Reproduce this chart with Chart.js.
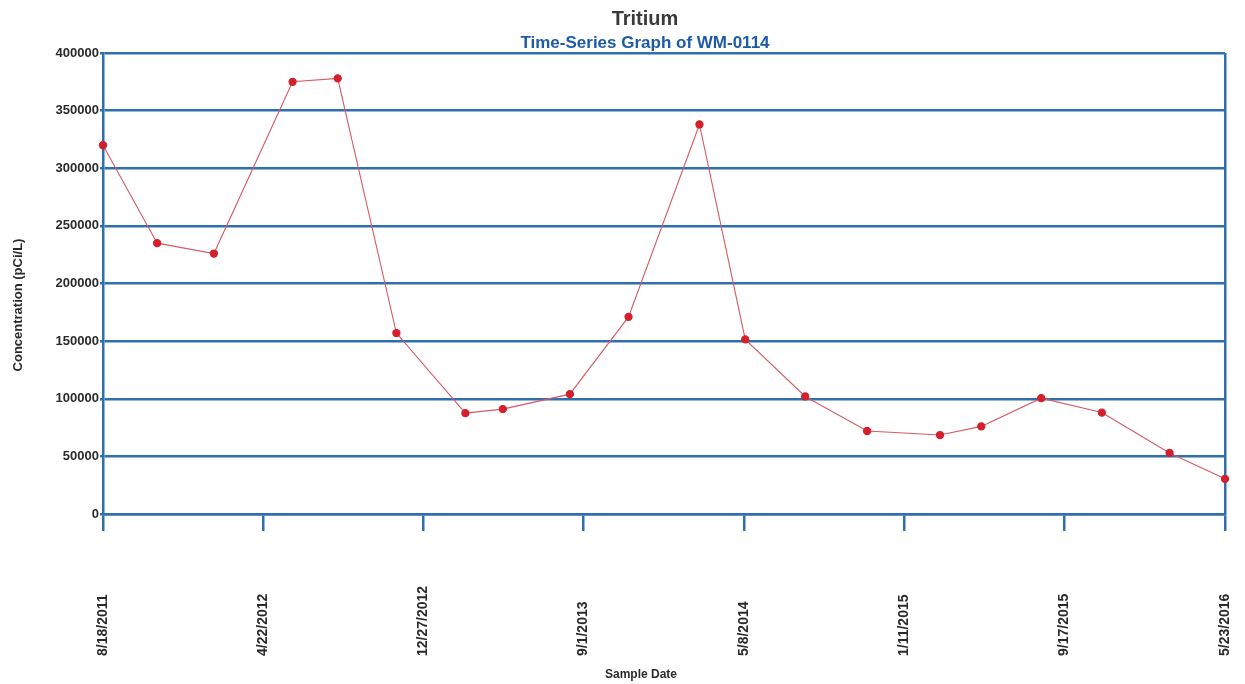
<!DOCTYPE html>
<html>
<head>
<meta charset="utf-8">
<script src="https://cdn.jsdelivr.net/npm/chart.js@4.4.1/dist/chart.umd.min.js"></script>
<style>
  html, body { margin: 0; padding: 0; background: #fff; }
  #wrap { width: 1245px; height: 684px; }
</style>
</head>
<body>
<div id="wrap"><canvas id="chart"></canvas></div>
<script>
// sample dates (m/d/yyyy) and tritium concentrations (pCi/L)
const sampleDates = [
    "8/18/2011", "11/10/2011", "2/6/2012", "6/7/2012", "8/16/2012",
    "11/15/2012", "3/2/2013", "4/29/2013", "8/11/2013", "11/10/2013",
    "2/28/2014", "5/10/2014", "8/11/2014", "11/15/2014", "3/8/2015",
    "5/11/2015", "8/12/2015", "11/14/2015", "2/27/2016", "5/23/2016"
];
const tritium = [
    320000, 235000, 226000, 375000, 378000,
    157000, 87500, 91000, 104000, 171000,
    338000, 151500, 102000, 72000, 68500,
    76000, 100500, 88000, 53000, 30500
];
const tickDates = ["8/18/2011", "4/22/2012", "12/27/2012", "9/1/2013", "5/8/2014", "1/11/2015", "9/17/2015", "5/23/2016"];
const yTicks = [0, 50000, 100000, 150000, 200000, 250000, 300000, 350000, 400000];

const blue = "#2f6fad";
const font = "'Liberation Sans', Arial, sans-serif";

function dayNum(s) {
    let p = s.split("/").map(Number);
    return Date.UTC(p[2], p[0] - 1, p[1]) / 86400000;
}
const base = dayNum(tickDates[0]);
const tickDays = tickDates.map(d => dayNum(d) - base);
const points = sampleDates.map((d, i) => ({ x: dayNum(d) - base, y: tritium[i] }));

// titles, vertical date labels (bottom-aligned like the original) and axis titles
const chartText = {
    id: "chartText",
    afterDraw(chart) {
        let s = chart.scales.x;
        let ctx = chart.ctx;
        ctx.save();
        ctx.textBaseline = "middle";
        ctx.textAlign = "center";

        ctx.fillStyle = "#3a3a3a";
        ctx.font = "bold 20px " + font;
        ctx.fillText("Tritium", 645, 19);
        ctx.fillStyle = "#1e5ba6";
        ctx.font = "bold 17px " + font;
        ctx.fillText("Time-Series Graph of WM-0114", 645, 43);

        ctx.fillStyle = "#2a2a2a";
        ctx.font = "bold 14px " + font;
        ctx.textAlign = "left";
        tickDays.forEach((v, i) => {
            let x = s.getPixelForValue(v);
            ctx.save();
            ctx.translate(x, 656);
            ctx.rotate(-Math.PI / 2);
            ctx.fillText(tickDates[i], 0, 0);
            ctx.restore();
        });

        ctx.textAlign = "center";
        ctx.font = "bold 12px " + font;
        ctx.fillText("Sample Date", 641, 675);

        ctx.font = "bold 13px " + font;
        ctx.translate(18, 305);
        ctx.rotate(-Math.PI / 2);
        ctx.fillText("Concentration (pCi/L)", 0, 0);
        ctx.restore();
    }
};

new Chart(document.getElementById("chart"), {
    type: "line",
    data: {
        datasets: [{
            label: "Tritium",
            data: points,
            borderColor: "#d65a64",
            borderWidth: 1.1,
            pointRadius: 3.6,
            pointBackgroundColor: "#d4202c",
            pointBorderColor: "#d4202c",
            tension: 0,
            clip: false
        }]
    },
    options: {
        responsive: true,
        maintainAspectRatio: false,
        animation: false,
        layout: { padding: { left: 0, right: 20, top: 53, bottom: 0 } },
        plugins: {
            legend: { display: false },
            tooltip: { enabled: false }
        },
        scales: {
            x: {
                type: "linear",
                min: tickDays[0],
                max: tickDays[tickDays.length - 1],
                afterBuildTicks: s => { s.ticks = tickDays.map(v => ({ value: v })); },
                afterFit: s => { s.height = 170; },
                ticks: { display: false },
                grid: {
                    color: c => c.index === tickDays.length - 1 ? blue : "rgba(0,0,0,0)",
                    lineWidth: 2.5,
                    tickColor: blue,
                    tickLength: 17,
                    drawOnChartArea: true
                },
                border: { display: true, color: blue, width: 2.5 }
            },
            y: {
                min: 0,
                max: 400000,
                afterBuildTicks: s => { s.ticks = yTicks.map(v => ({ value: v })); },
                afterFit: s => { s.width = 103; },
                ticks: {
                    color: "#2a2a2a",
                    font: { family: font, size: 13, weight: "bold" },
                    padding: 1,
                    callback: v => String(v)
                },
                grid: { color: blue, lineWidth: 2.5, tickLength: 3 },
                border: { display: true, color: blue, width: 2.5 }
            }
        }
    },
    plugins: [chartText]
});
</script>
</body>
</html>
